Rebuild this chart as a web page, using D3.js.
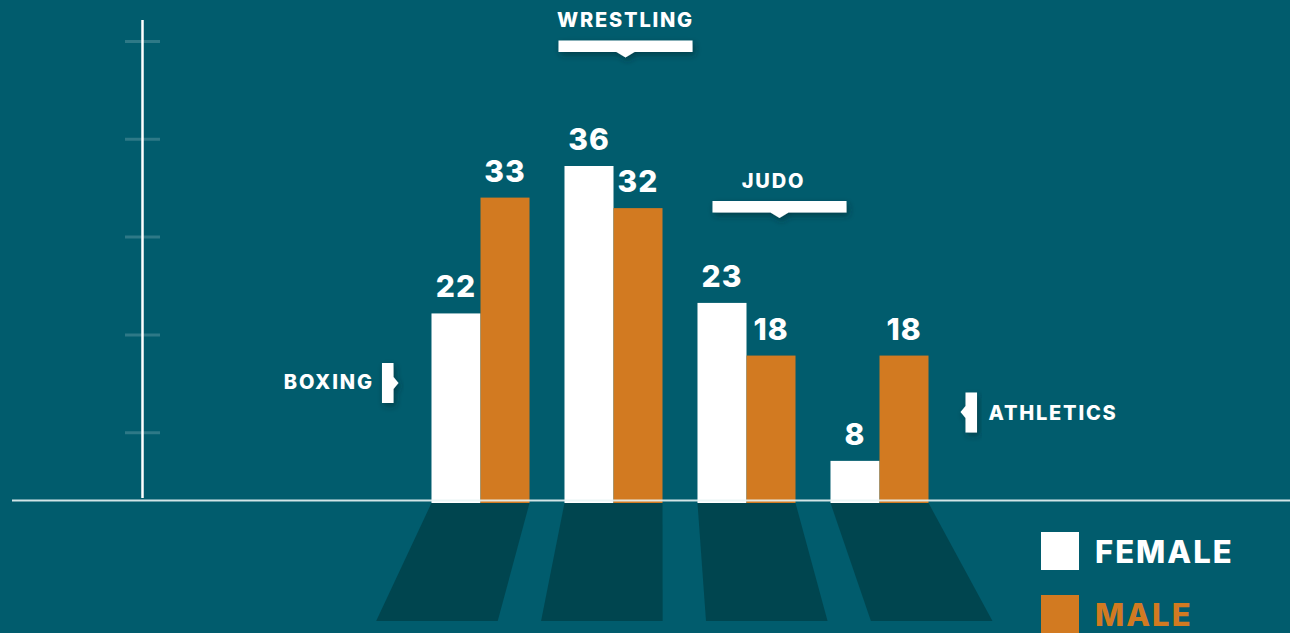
<!DOCTYPE html>
<html><head><meta charset="utf-8">
<script src="https://d3js.org/d3.v7.min.js"></script>
<style>
html, body { margin: 0; padding: 0; background: #015c6d; overflow: hidden; }
text { font-family: Inter, "Open Sans", sans-serif; font-weight: 800; fill: #fff; }
</style>
</head>
<body>
<svg width="1290" height="633"></svg>
<script>
// chart values
const sports = ["BOXING", "WRESTLING", "JUDO", "ATHLETICS"];
const sexes = ["FEMALE", "MALE"];
const female = [22, 36, 23, 8];
const male = [33, 32, 18, 18];
const colors = ["#ffffff", "#d27a21"];
const deco = [1, 2, 3, 4, 5];

const W = 1290, H = 633;
const base = 503;
const svg = d3.select("svg");

const rows = sports.map((s, i) => ({sport: s, values: [female[i], male[i]]}));

const x = d3.scaleBand().domain(sports).range([414, 946]).paddingInner(0.263).paddingOuter(0.1315);
const xs = d3.scaleBand().domain(sexes).range([0, x.bandwidth()]);
const y = d3.scaleLinear().domain([4, 36]).range([base, 166]);
const tickY = d3.scaleLinear().domain([0, 5]).range([530.5, 41.5]);

const defs = svg.append("defs");
defs.append("filter").attr("id", "ds").attr("x", "-30%").attr("y", "-60%").attr("width", "160%").attr("height", "260%")
  .append("feDropShadow").attr("dx", 2).attr("dy", 3).attr("stdDeviation", 3)
  .attr("flood-color", "#002a33").attr("flood-opacity", 0.55);

// shadows on the floor
const skew = xx => 0.24 * (xx - 662);
svg.append("g").selectAll("path").data(rows).join("path")
  .attr("fill", "#00454f")
  .attr("d", d => {
    const l = x(d.sport), r = l + x.bandwidth(), b = 621;
    return `M${l},${base} L${r},${base} L${r + skew(r)},${b} L${l + skew(l)},${b} Z`;
  });

// decorative vertical axis
svg.append("g").selectAll("line").data(deco).join("line")
  .attr("x1", 125).attr("x2", 160)
  .attr("y1", d => tickY(d)).attr("y2", d => tickY(d))
  .attr("stroke", "#ffffff").attr("stroke-opacity", 0.18).attr("stroke-width", 3);
svg.append("line").attr("x1", 142.5).attr("x2", 142.5).attr("y1", 20).attr("y2", 498)
  .attr("stroke", "#fff").attr("stroke-width", 2.5);

// bars
const g = svg.append("g").selectAll("g").data(rows).join("g")
  .attr("transform", d => `translate(${x(d.sport)},0)`);
g.selectAll("rect").data(d => d.values.map((v, i) => ({sex: sexes[i], v, i}))).join("rect")
  .attr("x", d => xs(d.sex)).attr("width", xs.bandwidth())
  .attr("y", d => y(d.v)).attr("height", d => base - y(d.v))
  .attr("fill", d => colors[d.i]);
g.selectAll("text").data(d => d.values.map((v, i) => ({sex: sexes[i], v}))).join("text")
  .attr("x", d => xs(d.sex) + xs.bandwidth() / 2)
  .attr("y", d => y(d.v) - 16)
  .attr("text-anchor", "middle").attr("font-size", 30).attr("letter-spacing", 1)
  .text(d => d.v);

// baseline
svg.append("line").attr("x1", 12).attr("x2", W).attr("y1", 500.5).attr("y2", 500.5)
  .attr("stroke", "#e8f4f4").attr("stroke-opacity", 0.9).attr("stroke-width", 2);

// sport markers
const ann = svg.append("g");
function topMarker(sport, dx, ty, tdx) {
  const cx = x(sport) + x.bandwidth() / 2 + dx;
  ann.append("path").attr("filter", "url(#ds)").attr("fill", "#fff")
    .attr("d", `M${cx - 67},${ty} h134 v11.5 h-58 l-9,5.5 l-9,-5.5 h-58 Z`);
  ann.append("text").attr("x", cx + tdx).attr("y", ty - 13.5).attr("text-anchor", "middle")
    .attr("font-size", 20).attr("letter-spacing", 1.8).text(sport);
}
topMarker("WRESTLING", 12, 40.5, 0);
topMarker("JUDO", 33, 201, -6);

const bx = x("BOXING") - 49.5;
ann.append("path").attr("filter", "url(#ds)").attr("fill", "#fff")
  .attr("d", `M${bx},363 h11.5 v14 l5,6 l-5,6 v14 h-11.5 Z`);
ann.append("text").attr("x", bx - 8).attr("y", 389).attr("text-anchor", "end")
  .attr("font-size", 20).attr("letter-spacing", 1.9).text("BOXING");

const ax = x("ATHLETICS") + x.bandwidth() + 37;
ann.append("path").attr("filter", "url(#ds)").attr("fill", "#fff")
  .attr("d", `M${ax},392.5 h11.5 v40 h-11.5 v-14.5 l-5,-6 l5,-6 Z`);
ann.append("text").attr("x", ax + 23).attr("y", 419.5)
  .attr("font-size", 20).attr("letter-spacing", 1.8).text("ATHLETICS");

// legend
const lg = svg.append("g").selectAll("g").data(sexes).join("g")
  .attr("transform", (d, i) => `translate(1041,${532 + i * 63})`);
lg.append("rect").attr("width", 38).attr("height", 38).attr("fill", (d, i) => colors[i]);
lg.append("text").attr("x", 54).attr("y", 31).attr("font-size", 31).attr("letter-spacing", 2)
  .style("fill", (d, i) => colors[i]).text(d => d);
</script>
</body></html>
